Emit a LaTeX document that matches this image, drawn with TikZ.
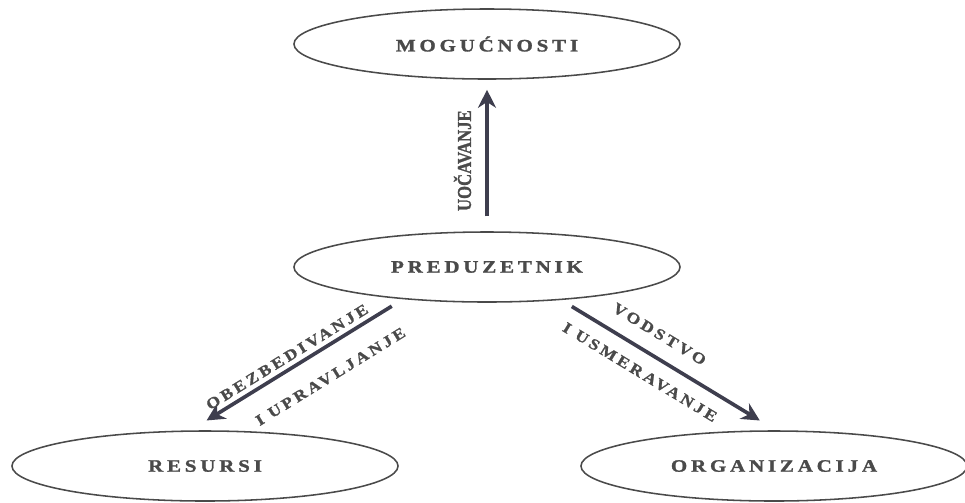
\documentclass[tikz,border=0pt]{standalone}
\usepackage{fontspec}
\setmainfont{Liberation Serif}
\newfontfamily\entityfont{Liberation Serif}[LetterSpace=22, FakeStretch=1.2, FakeBold=1.5]
\newfontfamily\linkfont{Liberation Serif}[LetterSpace=20, FakeStretch=1.15, FakeBold=1.2]
\newfontfamily\narrowfont{Liberation Serif}[FakeStretch=0.85, FakeBold=1.2]
\usetikzlibrary{shapes.geometric,arrows.meta}
\definecolor{inkgray}{HTML}{4A4A4A}
\definecolor{arrowgray}{HTML}{3E3E4E}

\begin{document}
\begin{tikzpicture}[
    x=0.025cm, y=-0.025cm,
    entity/.style={ellipse, draw=inkgray, line width=1.1pt,
        minimum width=9.65cm, minimum height=1.75cm, text=inkgray,
        font=\entityfont\bfseries\fontsize{12.4}{14}\selectfont},
    link/.style={-{Stealth[length=4.5mm, width=4.5mm]}, line width=2.6pt, draw=arrowgray},
    linklabel/.style={text=inkgray, inner sep=0pt, sloped,
        font=\linkfont\bfseries\fontsize{11}{12}\selectfont}
]

\useasboundingbox (0,0) rectangle (965,502);

% the four ellipses
\node[entity] (mog)  at (487,44)  {MOGUĆNOSTI};
\node[entity] (pred) at (487,267) {PREDUZETNIK};
\node[entity] (res)  at (205,466) {RESURSI};
\node[entity] (org)  at (774,466) {ORGANIZACIJA};

% arrows from the entrepreneur
\draw[link, shorten <=0.37cm, shorten >=0.25cm] (pred.north) -- (mog.south)
    node[pos=0.466, linklabel, above=9.9pt,
         font=\narrowfont\bfseries\fontsize{14}{15}\selectfont] {UOČAVANJE};

\draw[link, shorten <=0.33cm, shorten >=0.47cm] (pred.201) -- (res.112)
    node[pos=0.517, linklabel, above=3.3pt] {OBEZBEDIVANJE}
    node[pos=0.41, linklabel, below=14.7pt] {I UPRAVLJANJE};

\draw[link, shorten <=0.31cm, shorten >=0.47cm] (pred.336) -- (org.87)
    node[pos=0.405, linklabel, above=10.5pt] {VODSTVO}
    node[pos=0.417, linklabel, below=9.8pt] {I USMERAVANJE};
\end{tikzpicture}
\end{document}
